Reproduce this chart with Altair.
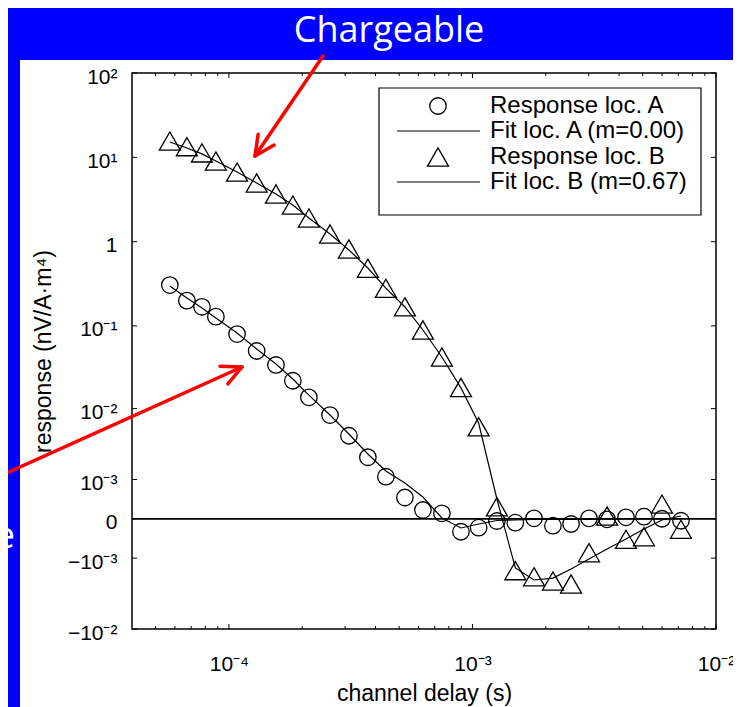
import math
import json
import altair as alt
import pandas as pd

# ---------------- data ----------------
delay_s = [5.72e-5, 6.72e-5, 7.75e-5, 8.84e-5, 1.08e-4, 1.30e-4, 1.56e-4, 1.83e-4, 2.13e-4,
           2.60e-4, 3.11e-4, 3.72e-4, 4.41e-4, 5.28e-4, 6.26e-4, 7.49e-4, 8.97e-4, 1.06e-3,
           1.26e-3, 1.50e-3, 1.79e-3, 2.14e-3, 2.54e-3, 3.01e-3, 3.57e-3, 4.27e-3, 5.06e-3,
           6.00e-3, 7.18e-3]

resp_a = [0.306, 0.200, 0.169, 0.129, 0.0800, 0.0502, 0.0341, 0.0220, 0.0138, 0.00831,
          0.00450, 0.00227, 0.00112, 0.000410, 0.000141, 0.0000843, -0.000220, -0.000143,
          -0.0000322, -0.0000583, 0.0000071, -0.000108, -0.0000790, 0.0000071, -0.0000070,
          0.0000220, 0.0000310, 0.0000010, -0.0000280]

fit_a = [0.298, 0.215, 0.163, 0.124, 0.0823, 0.0530, 0.0350, 0.0231, 0.0147, 0.00831,
         0.00474, 0.00253, 0.00140, 0.000862, 0.000423, 0.0000115, -0.000148, -0.0000790,
         -0.0000247, -0.0000173, -0.0000100, -0.0000100, -0.0000100, -0.0000070, -0.0000057,
         -0.0000030, -0.0000030, 0.0, 0.0000030]

resp_b = [15.6, 13.4, 11.3, 9.05, 6.70, 4.97, 3.68, 2.72, 1.91, 1.235, 0.820, 0.484, 0.280,
          0.169, 0.0894, 0.0425, 0.0182, 0.00590, 0.000203, -0.00162, -0.00201, -0.00232,
          -0.00256, -0.000791, 0.0000413, -0.000390, -0.000327, 0.000258, -0.000173]

fit_b = [15.2, 12.9, 11.0, 9.05, 6.70, 4.97, 3.68, 2.72, 1.91, 1.235, 0.797, 0.488, 0.282,
         0.168, 0.0894, 0.0425, 0.0180, 0.00658, 0.000373, -0.00147, -0.00224, -0.00210,
         -0.00153, -0.00104, -0.000666, -0.000382, -0.000167, -0.0000170, 0.0000410]

y_ticks = [-0.01, -0.001, 0, 0.001, 0.01, 0.1, 1, 10, 100]
y_tick_labels = ["\u221210\u207b\u00b2", "\u221210\u207b\u00b3", "0\u2007", "10\u207b\u00b3",
                 "10\u207b\u00b2", "10\u207b\u00b9", "1", "10\u00b9", "10\u00b2"]
x_ticks = [1e-4, 1e-3, 1e-2]
x_tick_labels = ["10\u207b\u2074", "10\u207b\u00b3", "10\u207b\u00b2"]
x_minor = [5e-5, 6e-5, 7e-5, 8e-5, 9e-5, 2e-4, 3e-4, 4e-4, 5e-4, 6e-4, 7e-4, 8e-4, 9e-4,
           2e-3, 3e-3, 4e-3, 5e-3, 6e-3, 7e-3, 8e-3, 9e-3]
legend_labels = ["Response loc. A", "Fit loc. A (m=0.00)", "Response loc. B", "Fit loc. B (m=0.67)"]
slide_title = "Chargeable"
x_title = "channel delay (s)"
y_title = "response (nV/A\u00b7m\u2074)"

# ---------------- layout / style ----------------
W, H = 584, 556
FONT = "Liberation Sans"
BLUE = "#0000FF"
RED = "#FF0000"
TRI = "M0,-0.866L1,0.866L-1,0.866Z"
CIRC_SIZE = 272
TRI_SIZE = 441

xscale = alt.Scale(type="log", domain=[4.0e-5, 1e-2], nice=False)
yscale = alt.Scale(type="symlog", constant=5.2e-4, domain=[-0.01, 100], nice=False, zero=False)

def lab_expr(ticks, labels):
    return "%s[indexof(%s, datum.value)]" % (json.dumps(labels, ensure_ascii=False), json.dumps(ticks))

xaxis = alt.Axis(values=x_ticks, labelExpr=lab_expr(x_ticks, x_tick_labels), labelFont=FONT,
                 labelFontSize=21, labelColor="black", labelPadding=41, labelBaseline="alphabetic",
                 ticks=False, tickSize=0,
                 domain=False, grid=False, labelFlush=False, labelOverlap=False,
                 title=x_title, titleFont=FONT, titleFontSize=23, titleFontWeight="normal",
                 titleColor="black", titleX=292, titleY=71, titleAlign="center",
                 titleBaseline="alphabetic")
yaxis = alt.Axis(values=y_ticks, labelExpr=lab_expr(y_ticks, y_tick_labels), labelFont=FONT,
                 labelFontSize=21, labelColor="black", labelPadding=15, labelOffset=4,
                 ticks=False, tickSize=0,
                 domain=False, grid=False, labelFlush=False, labelOverlap=False,
                 title=y_title, titleFont=FONT, titleFontSize=23, titleFontWeight="normal",
                 titleColor="black", titleX=-89, titleY=278, titleAngle=270, titleAlign="center",
                 titleBaseline="middle")

def X():
    return alt.X("x:Q", scale=xscale, axis=xaxis)

def Y():
    return alt.Y("y:Q", scale=yscale, axis=yaxis)

one = pd.DataFrame({"k": [0]})

def rect(x, x2, y, y2, **kw):
    return alt.Chart(one).mark_rect(**kw).encode(
        x=alt.value(x), x2=alt.value(x2), y=alt.value(y), y2=alt.value(y2))

def seg(x, y, x2, y2, **kw):
    return alt.Chart(one).mark_rule(**kw).encode(
        x=alt.value(x), x2=alt.value(x2), y=alt.value(y), y2=alt.value(y2))

layers = []

# blue slide background parts
layers.append(rect(-124, 601, -65, -13, color=BLUE))
layers.append(rect(-124, -112, -13, 634, color=BLUE))

# zero line
layers.append(alt.Chart(pd.DataFrame({"y": [0.0]})).mark_rule(color="black", strokeWidth=1.8)
              .encode(y=Y(), x=alt.value(0), x2=alt.value(W)))

# fits
df_fa = pd.DataFrame({"x": delay_s, "y": fit_a})
df_fb = pd.DataFrame({"x": delay_s, "y": fit_b})
layers.append(alt.Chart(df_fa).mark_line(color="black", strokeWidth=1.2).encode(x=X(), y=Y()))
layers.append(alt.Chart(df_fb).mark_line(color="black", strokeWidth=1.2).encode(x=X(), y=Y()))

# responses
df_a = pd.DataFrame({"x": delay_s, "y": resp_a})
df_b = pd.DataFrame({"x": delay_s, "y": resp_b})
layers.append(alt.Chart(df_a).mark_point(shape="circle", size=CIRC_SIZE, filled=False, color="black",
                                         strokeWidth=1.3, opacity=1).encode(x=X(), y=Y()))
layers.append(alt.Chart(df_b).mark_point(shape=TRI, size=TRI_SIZE, filled=False, color="black",
                                         strokeWidth=1.3, opacity=1).encode(x=X(), y=Y()))

# inward ticks
df_yt = pd.DataFrame({"y": y_ticks})
df_xt = pd.DataFrame({"x": x_ticks})
df_xm = pd.DataFrame({"x": x_minor})
layers.append(alt.Chart(df_yt).mark_rule(color="black", strokeWidth=1).encode(y=Y(), x=alt.value(0), x2=alt.value(5)))
layers.append(alt.Chart(df_yt).mark_rule(color="black", strokeWidth=1).encode(y=Y(), x=alt.value(W - 5), x2=alt.value(W)))
layers.append(alt.Chart(df_xt).mark_rule(color="black", strokeWidth=1).encode(x=X(), y=alt.value(H - 5), y2=alt.value(H)))
layers.append(alt.Chart(df_xt).mark_rule(color="black", strokeWidth=1).encode(x=X(), y=alt.value(0), y2=alt.value(5)))
layers.append(alt.Chart(df_xm).mark_rule(color="black", strokeWidth=1).encode(x=X(), y=alt.value(H - 3), y2=alt.value(H)))
layers.append(alt.Chart(df_xm).mark_rule(color="black", strokeWidth=1).encode(x=X(), y=alt.value(0), y2=alt.value(3)))

# legend
layers.append(rect(247, 569, 15, 142, fill="white", stroke="black", strokeWidth=1.2))
rows = [33, 58, 84, 109]
layers.append(alt.Chart(one).mark_point(shape="circle", size=CIRC_SIZE, filled=False, color="black",
                                        strokeWidth=1.3, opacity=1).encode(x=alt.value(306), y=alt.value(rows[0])))
layers.append(seg(265, rows[1], 348, rows[1], color="black", strokeWidth=1.2))
layers.append(alt.Chart(one).mark_point(shape=TRI, size=TRI_SIZE, filled=False, color="black",
                                        strokeWidth=1.3, opacity=1).encode(x=alt.value(306), y=alt.value(rows[2])))
layers.append(seg(265, rows[3], 348, rows[3], color="black", strokeWidth=1.2))
for lab, ry in zip(legend_labels, rows):
    layers.append(alt.Chart(one).mark_text(text=lab, align="left", baseline="middle", font=FONT,
                                           fontSize=24, color="black")
                  .encode(x=alt.value(358), y=alt.value(ry)))

# slide texts
layers.append(alt.Chart(one).mark_text(text=slide_title, align="center", baseline="alphabetic",
                                       font="Open Sans", fontSize=36, color="white")
              .encode(x=alt.value(257), y=alt.value(-31)))
layers.append(alt.Chart(one).mark_text(text="e", align="right", baseline="alphabetic",
                                       font="Open Sans", fontSize=36, color="white")
              .encode(x=alt.value(-117), y=alt.value(475)))

# red arrows
def arrow(sx, sy, tx, ty, head=22, ang=26):
    out = [seg(sx, sy, tx, ty, color=RED, strokeWidth=3.5, strokeCap="round")]
    bx, by = sx - tx, sy - ty
    L = math.hypot(bx, by)
    base = math.atan2(by / L, bx / L)
    for s in (-1, 1):
        a = base + s * math.radians(ang)
        out.append(seg(tx, ty, tx + head * math.cos(a), ty + head * math.sin(a),
                       color=RED, strokeWidth=3.5, strokeCap="round"))
    return out

layers += arrow(191, -17, 123, 83)
layers += arrow(-124, 399.4, 110, 294)

chart = (alt.layer(*layers)
         .properties(width=W, height=H,
                     padding={"left": 124, "top": 65, "right": 17, "bottom": 78},
                     autosize=alt.AutoSizeParams(type="none"))
         .configure(background="white")
         .configure_view(stroke="black", strokeWidth=1.5))

chart.save("out.html", embed_options={"renderer": "svg", "actions": False})
